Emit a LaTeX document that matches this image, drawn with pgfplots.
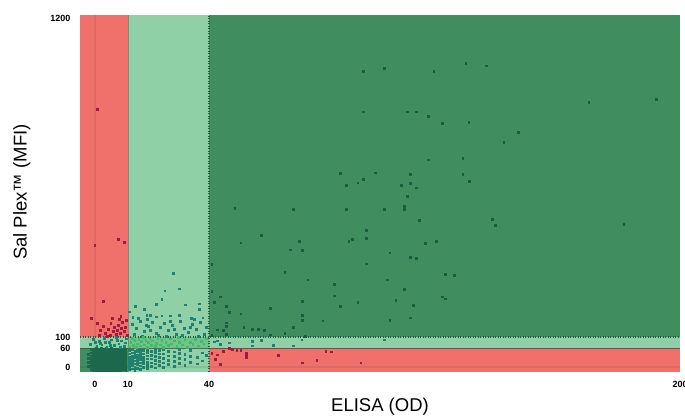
\documentclass[border=0pt]{standalone}
\usepackage{pgfplots}
\pgfplotsset{compat=1.18}
\usepackage{fontspec}
\setmainfont{Liberation Sans}
\definecolor{lgreen}{RGB}{143,208,167}
\definecolor{dgreen}{RGB}{64,141,95}
\definecolor{cred}{RGB}{240,113,108}
\definecolor{mgreen}{RGB}{112,196,138}
\definecolor{ptdark}{RGB}{30,92,66}
\definecolor{ptred}{RGB}{158,28,60}
\definecolor{ptteal}{RGB}{34,128,112}
\definecolor{ptbright}{RGB}{70,184,106}
\definecolor{ptclus}{RGB}{28,104,76}
\definecolor{dotc}{RGB}{36,92,64}
\begin{document}
\begin{tikzpicture}
\begin{axis}[
  at={(80pt,45pt)}, anchor=south west,
  width=600pt, height=357pt, scale only axis,
  x coord trafo/.code={\pgfmathparse{ifthenelse(#1<10,3.3*#1,ifthenelse(#1<40,33+2.7*(#1-10),114+2.94375*(#1-40)))}},
  x coord inv trafo/.code={\pgfmathparse{ifthenelse(#1<33,#1/3.3,ifthenelse(#1<114,10+(#1-33)/2.7,40+(#1-114)/2.94375))}},
  y coord trafo/.code={\pgfmathparse{ifthenelse(#1<60,0.316667*#1,ifthenelse(#1<100,19+0.275*(#1-60),30+0.29*(#1-100)))}},
  y coord inv trafo/.code={\pgfmathparse{ifthenelse(#1<19,#1/0.316667,ifthenelse(#1<30,60+(#1-19)/0.275,100+(#1-30)/0.29))}},
  xmin=-4.5454, xmax=200, ymin=-15.79, ymax=1210.3,
  xtick={0,10,40,200}, xticklabels={0,10,40,200},
  ytick={0,60,100,1200}, yticklabels={0,60,100,1200},
  axis line style={draw=none}, major tick length=0pt,
  /pgf/number format/assume math mode=true,
  ticklabel style={font=\bfseries\fontsize{9}{10}\selectfont},
  xticklabel style={yshift=-6pt},
  yticklabel style={xshift=-6pt},
  xlabel={ELISA (OD)}, ylabel={Sal Plex™ (MFI)},
  label style={font=\fontsize{18.5}{21}\selectfont},
  xlabel style={at={(axis description cs:0.5,-0.098)},anchor=center},
  ylabel style={at={(axis description cs:-0.097,0.504)},anchor=center},
]
% regions
\fill[lgreen] (axis cs:-4.5454,-15.79) rectangle (axis cs:200,1210.3);
\fill[cred] (axis cs:-4.5454,100) rectangle (axis cs:10,1210.3);
\fill[cred] (axis cs:40,-15.79) rectangle (axis cs:200,60);
\fill[dgreen] (axis cs:-4.5454,-15.79) rectangle (axis cs:10,60);
\fill[dgreen] (axis cs:40,100) rectangle (axis cs:200,1210.3);
\fill[mgreen] (axis cs:10,60) rectangle (axis cs:40,100);
% zero lines
\draw[black, opacity=0.07, line width=1.2pt] (axis cs:0,-15.79) -- (axis cs:0,1210.3);
\draw[black, opacity=0.07, line width=1.2pt] (axis cs:-4.5454,0) -- (axis cs:200,0);
% limits
\draw[black!75, opacity=0.7, line width=0.7pt] (axis cs:-4.5454,60) -- (axis cs:200,60);
\draw[black!60, opacity=0.6, line width=0.7pt] (axis cs:10,-15.79) -- (axis cs:10,1210.3);
\draw[dotc, dash pattern=on 1pt off 1.5pt, line width=1.1pt] (axis cs:-4.5454,100) -- (axis cs:200,100);
\draw[dotc, dash pattern=on 1pt off 1.5pt, line width=1.1pt] (axis cs:40,-15.79) -- (axis cs:40,1210.3);

% dense cluster (x<10, y<60)
\addplot[only marks, mark=square*, mark size=0.9pt, color=ptclus] table {
x y
-2.0 2
-2.0 14
-2.0 27
-2.0 41
-1.3 -8
-1.3 0
-1.3 8
-1.3 17
-1.3 25
-1.3 33
-1.3 45
-1.3 55
-0.5 -11
-0.5 -4
-0.5 3
-0.5 10
-0.5 17
-0.5 24
-0.5 31
-0.5 38
-0.5 45
-0.5 52
-0.5 58
0.3 -12
0.3 -6
0.3 0
0.3 6
0.3 12
0.3 18
0.3 24
0.3 30
0.3 36
0.3 42
0.3 48
0.3 54
0.3 59
1.0 -10
1.0 -4
1.0 2
1.0 8
1.0 14
1.0 20
1.0 26
1.0 32
1.0 38
1.0 44
1.0 50
1.0 56
1.8 -12
1.8 -6
1.8 0
1.8 6
1.8 12
1.8 18
1.8 24
1.8 30
1.8 36
1.8 42
1.8 48
1.8 54
1.8 59
2.5 -9
2.5 -3
2.5 3
2.5 9
2.5 15
2.5 21
2.5 27
2.5 33
2.5 39
2.5 45
2.5 51
2.5 57
3.3 -12
3.3 -6
3.3 0
3.3 6
3.3 12
3.3 18
3.3 24
3.3 30
3.3 36
3.3 42
3.3 48
3.3 54
3.3 59
4.0 -10
4.0 -4
4.0 2
4.0 8
4.0 14
4.0 20
4.0 26
4.0 32
4.0 38
4.0 44
4.0 50
4.0 56
4.8 -12
4.8 -6
4.8 0
4.8 6
4.8 12
4.8 18
4.8 24
4.8 30
4.8 36
4.8 42
4.8 48
4.8 54
4.8 59
5.5 -9
5.5 -3
5.5 3
5.5 9
5.5 15
5.5 21
5.5 27
5.5 33
5.5 39
5.5 45
5.5 51
5.5 57
6.3 -11
6.3 -5
6.3 1
6.3 7
6.3 13
6.3 19
6.3 25
6.3 31
6.3 37
6.3 43
6.3 49
6.3 55
7.0 -10
7.0 -4
7.0 2
7.0 8
7.0 14
7.0 20
7.0 26
7.0 32
7.0 38
7.0 44
7.0 50
7.0 56
7.8 -12
7.8 -6
7.8 0
7.8 6
7.8 12
7.8 18
7.8 24
7.8 30
7.8 36
7.8 42
7.8 48
7.8 54
7.8 59
8.5 -8
8.5 -2
8.5 4
8.5 10
8.5 16
8.5 22
8.5 28
8.5 34
8.5 40
8.5 46
8.5 52
8.5 58
9.3 -11
9.3 -5
9.3 1
9.3 7
9.3 13
9.3 19
9.3 25
9.3 31
9.3 37
9.3 43
9.3 49
9.3 55
};

% teal points in light green areas
\addplot[only marks, mark=square*, mark size=0.85pt, color=ptteal] coordinates {
(10.5,-8)(10.5,2)(10.5,12)(10.5,22)(10.5,32)(10.5,42)(10.5,52)
(11.5,-5)(11.5,5)(11.5,15)(11.5,25)(11.5,35)(11.5,45)(11.5,55)
(12.5,-10)(12.5,0)(12.5,10)(12.5,20)(12.5,30)(12.5,40)(12.5,50)
(13.5,-3)(13.5,8)(13.5,18)(13.5,28)(13.5,38)(13.5,48)(13.5,57)
(14.5,-6)(14.5,4)(14.5,14)(14.5,24)(14.5,34)(14.5,44)(14.5,54)
(15.5,0)(15.5,12)(15.5,22)(15.5,32)(15.5,42)(15.5,52)
(17,-4)(17,6)(17,16)(17,26)(17,36)(17,46)(17,56)
(18.5,2)(18.5,14)(18.5,26)(18.5,38)(18.5,50)
(20,-2)(20,10)(20,22)(20,34)(20,46)(20,57)
(21.5,5)(21.5,18)(21.5,30)(21.5,42)(21.5,54)
(23,0)(23,14)(23,28)(23,42)(23,55)
(25,8)(25,22)(25,36)(25,50)
(27,3)(27,18)(27,33)(27,48)
(29,12)(29,28)(29,44)(29,56)
(31,6)(31,24)(31,40)
(33,15)(33,35)(33,52)
(35.5,10)(35.5,30)
(37.5,20)(37.5,45)
(39,38)
(-1.5,75)(-0.5,92)(0.5,68)(1.2,85)(2,72)(2.8,95)(3.5,64)(4.2,80)(5,90)(5.8,70)(6.5,98)(7.2,76)(8,86)(8.8,66)(9.5,94)(1.6,78)(4.6,70)(6.8,88)(3,82)(7.6,62)(0,80)(9.2,79)
(26.8,321)(23.6,260)(29,266.5)(22.5,230)(12.7,207)(15.9,195.5)(20.4,214)(10.5,187)(31.1,211)(36.4,215)(36.4,195.5)(16.9,176)(18.1,176)(20.4,170)(22.5,173)(25.6,173)(29,176)(33.3,164.5)(37.7,166.5)(11.7,168)(17.1,161)
(11.5,145)(13,131)(14.4,155)(15.9,121)(17.4,138)(18.9,152)(20.4,114)(21.9,134.5)(23.3,148)(24.8,124)(26.3,141)(27.8,110)(29.3,155)(30.7,131)(32.2,117)(33.7,145)(35.2,128)(36.7,152)(38.1,110)(12.2,110)(15.2,103)(18.1,124)(21.1,107)(24.1,103)(27,128)(30,107)(33,134.5)(35.9,103)(13.7,165.5)(16.7,141)(25.6,155)(34.4,162)(38.9,134.5)
(41.8,83)(42.8,86.5)(46.8,79)(54.7,85.5)(57.7,88)(54.7,68)(61.7,71)(68.5,68)(71.5,90)(99.4,90)(43.8,73.5)
};

% bright green points (10-40, 60-100)
\addplot[only marks, mark=square*, mark size=0.85pt, color=ptbright] coordinates {
(10.5,65)(11,80)(11.5,95)(12,70)(12.5,88)(13,62)(13.5,76)(14,92)(14.5,68)(15,84)(15.5,98)(16,72)(16.5,88)(17,64)(17.5,80)(18,94)(18.5,70)(19,86)(20,66)(20.5,78)(21,96)(22,72)(22.5,88)(23,62)(24,82)(25,70)(25.5,94)(26,76)(27,86)(28,66)(28.5,98)(29,80)(30,72)(31,90)(32,64)(33,82)(34,74)(35,92)(36,68)(37,84)(38,76)(39,94)
};

% red points
\addplot[only marks, mark=square*, mark size=0.85pt, color=ptred] coordinates {
(40.9,43)(42,24)(43.8,9.5)(44.8,50.5)(47.9,56)(49.4,52)(50.8,52)(52.7,43)(52.7,35)(52.7,31.6)(63.5,37)(71.7,13.6)(76.6,21.5)(79.6,50.5)(81.6,48.3)(91.5,13.6)(42.8,38.8)(46.8,58.4)
(0.7,885)(-0.1,417)(7,438)(8.8,426)(2.5,224)(-1.1,164)(0.7,148)(7.8,172)
(4.8,148)(5.8,134.5)(7,141)(8.2,152)(9.4,159)(3.9,128)(5.5,121)(6.7,124)(7.9,131)(9.1,134.5)(3,114)(4.5,107)(6.4,110)(7.6,114)(8.8,121)(9.7,107)(1.5,124)(2.4,138)(7.3,162)(5.2,165.5)(1.2,107)(3.6,103)
};

% dark points in the dark green region
\addplot[only marks, mark=square*, mark size=0.85pt, color=ptdark] coordinates {
(92.4,1017)(99.4,1026)(116.3,1017)(92.4,877)(107.4,877)(110.4,877)(114.4,862)(119.3,838)(114.4,711)(84.5,664)(96.4,667)(108.3,661)(92.4,644)(127.2,1045)(134.2,1035)(169,910)(191.8,920)(128.2,840)(145.1,807)(140.1,771)(126.2,717)(126.2,661)(86.5,623)(90.5,632)(105.3,623)(108.4,631)(110.4,615)(107.4,586)(106.3,552)(106.3,541)(99.4,541)(86.5,540)(68.5,541)(48.7,545)(111.3,502)(93.4,468)(93.4,440)(87.5,431)(88.6,437)(57.7,452)(50.8,425)(70.6,431)(67.6,401)(71.7,399)(113.4,424)(117.2,431)(101.4,391)(108.4,376)(110.4,371)(93.4,353)(40.9,351)(65.7,323)(73.5,298)(100.5,298)(120.3,316)(82.6,283)(106.3,264)(40.9,258)(43.8,239)(82.6,242)(119.3,239)(120.3,232)(41.8,220)(103.4,228)(90.5,221)(71.7,223)(45.8,205)(46.8,186)(84.5,206)(109.3,210)(60.7,199)(50.8,180)(71.7,175)(71.7,159)(78.6,156)(101.4,159)(108.4,167)(45.8,149)(45.8,138)(51.8,134)(54.7,128)(56.7,128)(58.7,124)(42.8,125)(44.8,124)(68.5,133)(45.8,110)(60.7,108)(65.7,113)(40.9,105)(72.6,102)(128.3,637)(136.1,507)(137.2,485)(180.9,490)(123.3,313)
};
\end{axis}
\pgfresetboundingbox
\useasboundingbox (0,0) rectangle (685pt,417pt);
\end{tikzpicture}
\end{document}
